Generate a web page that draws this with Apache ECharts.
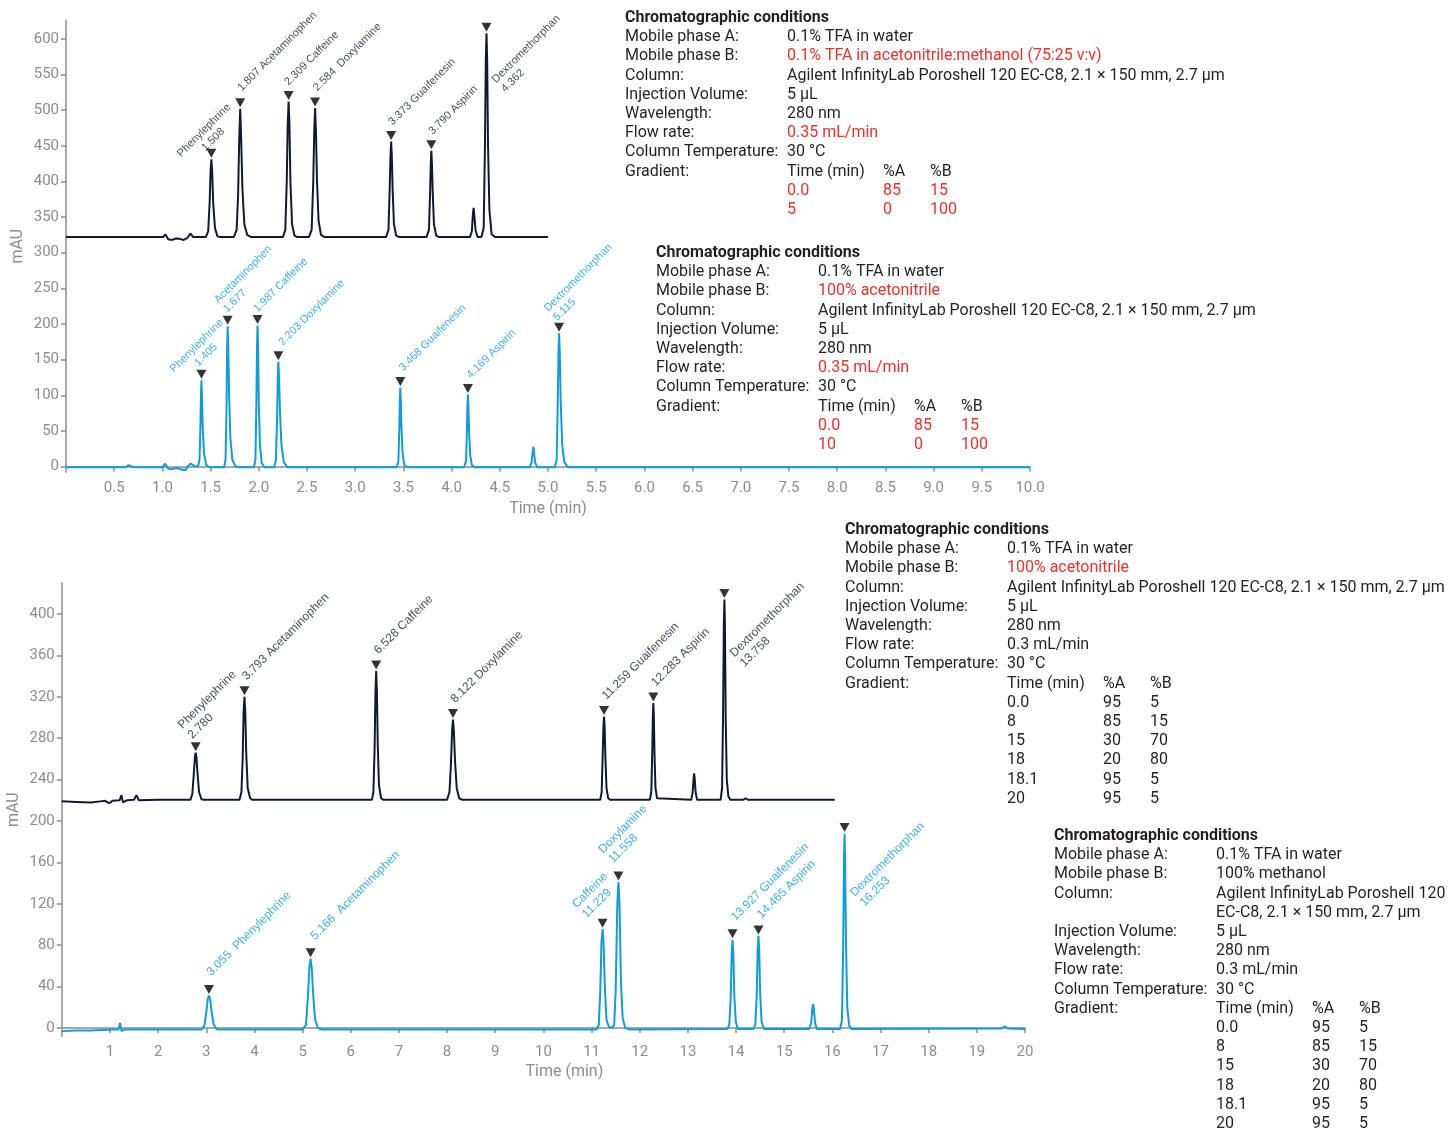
<!DOCTYPE html>
<html>
<head>
<meta charset="utf-8">
<script src="https://cdn.jsdelivr.net/npm/echarts@6/dist/echarts.min.js"></script>
<style>
  html, body { margin: 0; padding: 0; background: #fff; }
  #chart { width: 1449px; height: 1130px; }
</style>
</head>
<body>
<div id="chart"></div>
<script>
// ---------------- DATA ----------------
// Top panel (0–10 min)
const topXTicks = [0.5,1.0,1.5,2.0,2.5,3.0,3.5,4.0,4.5,5.0,5.5,6.0,6.5,7.0,7.5,8.0,8.5,9.0,9.5,10.0];
const topYTicks = [0,50,100,150,200,250,300,350,400,450,500,550,600];

const topDarkTrace = [
  [0,322],[0.48,322],[0.5,323.5],[0.53,322],[0.67,322],[0.69,323],[0.72,322],[1.01,322],[1.03,326],[1.06,319],
  [1.1,318],[1.14,320],[1.18,319.5],[1.22,318],[1.26,321],[1.29,327],[1.32,322],
  [1.45,322],[1.475,330],[1.49,370],[1.5,415],[1.508,431],[1.516,415],[1.527,370],[1.545,335],[1.57,323],[1.6,322],
  [1.74,322],[1.77,332],[1.785,380],[1.797,460],[1.807,502],[1.817,460],[1.83,390],[1.85,340],[1.88,325],[1.92,322],
  [2.25,322],[2.275,332],[2.29,400],[2.3,480],[2.309,512],[2.318,480],[2.328,400],[2.345,340],[2.37,324],[2.4,322],
  [2.52,322],[2.548,332],[2.565,400],[2.575,470],[2.584,503],[2.593,470],[2.604,400],[2.62,345],[2.645,325],[2.68,322],
  [3.32,322],[3.345,332],[3.358,390],[3.366,435],[3.373,456],[3.38,435],[3.388,390],[3.402,340],[3.425,324],[3.46,322],
  [3.74,322],[3.765,332],[3.777,385],[3.784,425],[3.79,443],[3.796,425],[3.804,385],[3.817,340],[3.84,324],[3.87,322],
  [4.19,322],[4.21,330],[4.22,352],[4.228,363],[4.236,352],[4.248,332],[4.27,322],
  [4.31,322],[4.333,335],[4.346,450],[4.355,570],[4.362,608],[4.369,570],[4.378,450],[4.392,360],[4.415,326],[4.45,322],
  [4.7,322],[4.72,323.5],[4.74,322],[5.0,322]
];
const topDarkPeakTimes   = [1.508, 1.807, 2.309, 2.584, 3.373, 3.790, 4.362];
const topDarkPeakHeights = [431, 502, 512, 503, 456, 443, 608];
const topDarkPeakLabels  = ['Phenylephrine\n1.508','1.807 Acetaminophen','2.309 Caffeine','2.584  Doxylamine',
                            '3.373 Guaifenesin','3.790 Aspirin','Dextromethorphan\n4.362'];

const topBlueTrace = [
  [0,-1],[0.62,-1],[0.65,2],[0.68,0],[0.72,-1],[1.0,-1],[1.03,4],[1.06,-3],[1.1,-3.5],[1.15,-2],[1.2,-4],[1.24,-5],
  [1.27,1],[1.29,4],[1.33,1],
  [1.37,0],[1.385,10],[1.395,60],[1.4,100],[1.405,121],[1.41,100],[1.418,55],[1.432,18],[1.455,2],[1.49,-1],
  [1.64,-1],[1.655,10],[1.665,80],[1.671,160],[1.677,197],[1.683,170],[1.692,100],[1.705,40],[1.725,10],[1.76,0],[1.8,-1],
  [1.95,-1],[1.965,10],[1.975,90],[1.981,165],[1.987,198],[1.993,165],[2.0,90],[2.012,30],[2.03,5],[2.06,-1],
  [2.16,-1],[2.178,10],[2.19,70],[2.197,125],[2.203,147],[2.21,125],[2.22,75],[2.235,30],[2.26,6],[2.3,-1],
  [3.43,-1],[3.448,8],[3.458,55],[3.463,92],[3.468,111],[3.473,92],[3.48,55],[3.492,18],[3.51,2],[3.54,-1],
  [4.13,-1],[4.15,8],[4.159,50],[4.164,85],[4.169,101],[4.174,85],[4.181,50],[4.193,16],[4.21,2],[4.24,-1],
  [4.81,-1],[4.83,6],[4.842,22],[4.848,28],[4.854,22],[4.866,6],[4.89,-1],
  [5.07,-1],[5.09,10],[5.1,80],[5.108,155],[5.115,187],[5.122,160],[5.132,90],[5.148,30],[5.17,6],[5.21,-1],
  [10.0,-1]
];
const topBluePeakTimes   = [1.405, 1.677, 1.987, 2.203, 3.468, 4.169, 5.115];
const topBluePeakHeights = [121, 197, 198, 147, 111, 101, 187];
const topBluePeakLabels  = ['Phenylephrine\n1.405','Acetaminophen\n1.677','1.987 Caffeine','2.203 Doxylamine',
                            '3.468 Guaifenesin','4.169 Aspirin','Dextromethorphan\n5.115'];

// Bottom panel (0–20 min)
const botXTicks = [1,2,3,4,5,6,7,8,9,10,11,12,13,14,15,16,17,18,19,20];
const botYTicks = [0,40,80,120,160,200,240,280,320,360,400];

const botDarkTrace = [
  [0,219],[0.3,218.5],[0.6,218],[0.8,219],[0.9,219.5],[0.95,218],[1.0,217.5],[1.05,219.5],[1.2,220],[1.24,225],
  [1.27,218],[1.35,220],[1.5,220.5],[1.55,225],[1.6,220],[2.0,220.5],
  [2.67,220.5],[2.71,226],[2.74,245],[2.765,262],[2.78,266],[2.795,262],[2.82,245],[2.85,228],[2.9,221],[2.95,220.5],
  [3.69,220.5],[3.73,228],[3.755,260],[3.775,305],[3.793,320],[3.81,305],[3.83,265],[3.86,232],[3.91,222],[3.96,220.5],
  [6.44,220.5],[6.47,228],[6.495,270],[6.513,325],[6.528,345],[6.543,325],[6.56,275],[6.585,235],[6.63,222],[6.68,220.5],
  [8.0,220.5],[8.05,228],[8.08,255],[8.105,288],[8.122,298],[8.14,288],[8.165,258],[8.2,232],[8.25,222],[8.32,220.5],
  [11.18,220.5],[11.21,228],[11.232,265],[11.247,292],[11.259,301],[11.271,292],[11.287,262],[11.31,232],[11.345,222],[11.39,220.5],
  [12.21,220.5],[12.24,228],[12.26,265],[12.273,302],[12.283,314],[12.293,302],[12.307,265],[12.327,232],[12.36,222],[12.4,220.5],
  [13.07,220.5],[13.1,228],[13.12,242],[13.13,246],[13.14,242],[13.16,228],[13.19,220.5],
  [13.68,220.5],[13.71,232],[13.73,300],[13.747,390],[13.758,414],[13.769,390],[13.785,300],[13.808,240],[13.84,224],[13.88,220.5],
  [14.15,220.5],[14.2,222],[14.25,220.5],[16.05,220.5]
];
const botDarkPeakTimes   = [2.780, 3.793, 6.528, 8.122, 11.259, 12.283, 13.758];
const botDarkPeakHeights = [266, 320, 345, 298, 301, 314, 414];
const botDarkPeakLabels  = ['Phenylephrine\n2.780','3.793 Acetaminophen','6.528 Caffeine','8.122 Doxylamine',
                            '11.259 Guaifenesin','12.283 Aspirin','Dextromethorphan\n13.758'];

const botBlueTrace = [
  [0,-3],[0.3,-2.5],[0.6,-2.5],[0.8,-2],[1.1,-1.5],[1.18,-1.5],[1.21,5],[1.24,-3],[1.3,-1.5],[1.5,-1.5],[2.85,-1.5],
  [2.9,-1.5],[2.96,2],[3.0,15],[3.03,28],[3.055,31.4],[3.08,28],[3.11,16],[3.15,4],[3.21,-1],[3.28,-1.5],
  [5.0,-1.5],[5.07,3],[5.11,30],[5.14,58],[5.166,67],[5.19,58],[5.22,32],[5.26,8],[5.32,0],[5.4,-1.5],
  [11.1,-1.5],[11.15,3],[11.18,35],[11.205,82],[11.229,95.5],[11.25,82],[11.275,40],[11.31,8],[11.36,1],[11.42,0],
  [11.47,3],[11.5,35],[11.535,120],[11.558,141],[11.58,120],[11.61,45],[11.645,10],[11.7,0],[11.8,-1.5],
  [13.82,-1],[13.86,3],[13.89,30],[13.91,72],[13.927,85.3],[13.944,72],[13.965,30],[13.995,6],[14.04,-1],
  [14.36,-1],[14.4,3],[14.43,32],[14.449,76],[14.465,89],[14.481,76],[14.502,32],[14.53,6],[14.58,-1],
  [15.52,-1],[15.56,5],[15.585,19],[15.6,23.4],[15.615,19],[15.64,5],[15.68,-1],
  [16.16,-1],[16.2,8],[16.225,80],[16.242,165],[16.253,188],[16.264,165],[16.282,85],[16.31,20],[16.35,2],[16.4,-1],
  [19.5,-0.5],[19.58,1.5],[19.65,-0.5],[20,-1]
];
const botBluePeakTimes   = [3.055, 5.166, 11.229, 11.558, 13.927, 14.465, 16.253];
const botBluePeakHeights = [31.4, 67, 95.5, 141, 85.3, 89, 188];
const botBluePeakLabels  = ['3.055  Phenylephrine','5.166  Acetaminophen','Caffeine\n11.229','Doxylamine\n11.558',
                            '13.927 Guaifenesin','14.465 Aspirin','Dextromethorphan\n16.253'];

// Conditions text
const condTitle = 'Chromatographic conditions';
const gradHeader = ['Gradient:', 'Time (min)', '%A', '%B'];
const cond1Rows = [
  ['Mobile phase A:', '0.1% TFA in water'],
  ['Mobile phase B:', '0.1% TFA in acetonitrile:methanol (75:25 v:v)'],
  ['Column:', 'Agilent InfinityLab Poroshell 120 EC-C8, 2.1 × 150 mm, 2.7 µm'],
  ['Injection Volume:', '5 µL'],
  ['Wavelength:', '280 nm'],
  ['Flow rate:', '0.35 mL/min'],
  ['Column Temperature:', '30 °C']
];
const cond1Grad = [['0.0','85','15'],['5','0','100']];
const cond2Rows = [
  ['Mobile phase A:', '0.1% TFA in water'],
  ['Mobile phase B:', '100% acetonitrile'],
  ['Column:', 'Agilent InfinityLab Poroshell 120 EC-C8, 2.1 × 150 mm, 2.7 µm'],
  ['Injection Volume:', '5 µL'],
  ['Wavelength:', '280 nm'],
  ['Flow rate:', '0.35 mL/min'],
  ['Column Temperature:', '30 °C']
];
const cond2Grad = [['0.0','85','15'],['10','0','100']];
const cond3Rows = [
  ['Mobile phase A:', '0.1% TFA in water'],
  ['Mobile phase B:', '100% acetonitrile'],
  ['Column:', 'Agilent InfinityLab Poroshell 120 EC-C8, 2.1 × 150 mm, 2.7 µm'],
  ['Injection Volume:', '5 µL'],
  ['Wavelength:', '280 nm'],
  ['Flow rate:', '0.3 mL/min'],
  ['Column Temperature:', '30 °C']
];
const cond3Grad = [['0.0','95','5'],['8','85','15'],['15','30','70'],['18','20','80'],['18.1','95','5'],['20','95','5']];
const cond4Rows = [
  ['Mobile phase A:', '0.1% TFA in water'],
  ['Mobile phase B:', '100% methanol'],
  ['Column:', 'Agilent InfinityLab Poroshell 120\nEC-C8, 2.1 × 150 mm, 2.7 µm'],
  ['Injection Volume:', '5 µL'],
  ['Wavelength:', '280 nm'],
  ['Flow rate:', '0.3 mL/min'],
  ['Column Temperature:', '30 °C']
];
const cond4Grad = [['0.0','95','5'],['8','85','15'],['15','30','70'],['18','20','80'],['18.1','95','5'],['20','95','5']];

// ---------------- STYLE / LAYOUT ----------------
const DARK = '#0f1b2d';
const BLUE = '#109bd9';
const AXIS = '#8c8c8c';
const INK = '#231f20';
const RED = '#e8322b';
const LABEL_FONT = '"Liberation Sans", Arial, sans-serif';
const TEXT_FONT = 'Roboto, "Noto Sans", sans-serif';

// label placement per peak: [align, along-offset, perpendicular-offset] (rotated frame)
const topDarkLabelPos = [['center',11,-15],['left',9,-10],['left',7,-10],['left',9,-9],['left',8,-9],['left',8,-9],['left',-33,50]];
const topBlueLabelPos = [['center',17,-17],['left',5,-15],['left',5,-8],['left',10,-7],['left',9,-8],['left',9,-8],['left',3,-15]];
const botDarkLabelPos = [['left',3,-18],['left',9,-9],['left',9,-9],['left',9,-9],['left',9,-9],['left',9,-9],['left',-38,56]];
const botBlueLabelPos = [['left',11,-11],['left',12,-9],['left',-8,-25],['left',5,-23],['left',11,-10],['left',10,-9],['left',-42,60]];

const RH = 19.2;
const condLayout = [
  {x0:625, x1:787, xa:883, xb:930, y:18, rows:cond1Rows, grad:cond1Grad, red:[1,5], gradRed:true},
  {x0:656, x1:818, xa:914, xb:961, y:253, rows:cond2Rows, grad:cond2Grad, red:[1,5], gradRed:true},
  {x0:845, x1:1007, xa:1103, xb:1150, y:530, rows:cond3Rows, grad:cond3Grad, red:[1], gradRed:false},
  {x0:1054, x1:1216, xa:1312, xb:1359, y:836, rows:cond4Rows, grad:cond4Grad, red:[], gradRed:false}
];

function txt(x, y, s, color, bold) {
  return {
    type: 'text', x: x, y: y, silent: true,
    style: {
      text: s, fill: color || INK,
      fontFamily: TEXT_FONT, fontSize: 16, fontWeight: bold ? 'bold' : 'normal',
      align: 'left', verticalAlign: 'middle', textAlign: 'left', textVerticalAlign: 'middle'
    }
  };
}
const graphics = [];
condLayout.forEach(b => {
  let y = b.y;
  graphics.push(txt(b.x0, y, condTitle, INK, true));
  y += RH;
  b.rows.forEach((r, i) => {
    graphics.push(txt(b.x0, y, r[0]));
    r[1].split('\n').forEach(line => {
      graphics.push(txt(b.x1, y, line, b.red.indexOf(i) >= 0 ? RED : INK));
      y += RH;
    });
  });
  graphics.push(txt(b.x0, y, gradHeader[0]));
  graphics.push(txt(b.x1, y, gradHeader[1]));
  graphics.push(txt(b.xa, y, gradHeader[2]));
  graphics.push(txt(b.xb, y, gradHeader[3]));
  y += RH;
  b.grad.forEach(g => {
    const c = b.gradRed ? RED : INK;
    graphics.push(txt(b.x1, y, g[0], c));
    graphics.push(txt(b.xa, y, g[1], c));
    graphics.push(txt(b.xb, y, g[2], c));
    y += RH;
  });
});

function lineSeries(data, color, idx) {
  return {
    type: 'line', data: data, xAxisIndex: idx, yAxisIndex: idx,
    showSymbol: false, symbol: 'none', smooth: false, animation: false,
    lineStyle: { color: color, width: 2 }, z: 2
  };
}
function peakSeries(times, heights, labels, pos, color, idx, fs) {
  return {
    type: 'scatter', xAxisIndex: idx, yAxisIndex: idx, animation: false, z: 5,
    symbol: 'path://M0,0 L10,0 L5,9 Z', symbolSize: [10, 9], symbolOffset: [0, -6],
    itemStyle: { color: '#000' },
    data: times.map((t, i) => ({
      value: [t, heights[i]],
      label: {
        show: true, formatter: labels[i], position: 'inside', rotate: 45,
        align: pos[i][0], verticalAlign: 'middle', offset: [pos[i][1], pos[i][2]],
        color: color, fontSize: fs, fontFamily: LABEL_FONT, lineHeight: fs + 2
      }
    }))
  };
}

const axisLineStyle = { lineStyle: { color: AXIS, width: 1.5 } };
const axisLabelStyle = { color: AXIS, fontSize: 15, fontFamily: TEXT_FONT };
const nameStyle = { color: AXIS, fontSize: 16, fontFamily: TEXT_FONT };

const option = {
  backgroundColor: '#fff',
  animation: false,
  grid: [
    { left: 66, top: 20, width: 964, height: 452.3, outerBoundsMode: 'none', containLabel: false },
    { left: 61.8, top: 583, width: 963.2, height: 453.3, outerBoundsMode: 'none', containLabel: false }
  ],
  xAxis: [
    {
      type: 'value', gridIndex: 0, min: 0, max: 10,
      axisLine: axisLineStyle,
      axisTick: { show: true, length: 5, lineStyle: { color: AXIS, width: 1.5 }, customValues: topXTicks },
      axisLabel: Object.assign({ margin: 8, customValues: topXTicks, formatter: v => v.toFixed(1) }, axisLabelStyle),
      splitLine: { show: false },
      name: 'Time (min)', nameLocation: 'middle', nameGap: 29,
      nameTextStyle: nameStyle
    },
    {
      type: 'value', gridIndex: 1, min: 0, max: 20,
      axisLine: axisLineStyle,
      axisTick: { show: true, length: 5, lineStyle: { color: AXIS, width: 1.5 }, customValues: botXTicks },
      axisLabel: Object.assign({ margin: 8, customValues: botXTicks, formatter: v => String(Math.round(v)) }, axisLabelStyle),
      splitLine: { show: false },
      name: 'Time (min)', nameLocation: 'middle', nameGap: 28,
      nameTextStyle: Object.assign({ padding: [0, 0, 0, 42] }, nameStyle)
    }
  ],
  yAxis: [
    {
      type: 'value', gridIndex: 0, min: -8, max: 626.5,
      axisLine: { show: true, lineStyle: { color: AXIS, width: 1.5 } },
      axisTick: { show: true, length: 5, lineStyle: { color: AXIS, width: 1.5 }, customValues: topYTicks },
      axisLabel: Object.assign({ margin: 7, customValues: topYTicks }, axisLabelStyle),
      splitLine: { show: false },
      name: 'mAU', nameLocation: 'middle', nameGap: 40, nameRotate: 90, nameMoveOverlap: false,
      nameTextStyle: nameStyle
    },
    {
      type: 'value', gridIndex: 1, min: -8, max: 430,
      axisLine: { show: true, lineStyle: { color: AXIS, width: 1.5 } },
      axisTick: { show: true, length: 5, lineStyle: { color: AXIS, width: 1.5 }, customValues: botYTicks },
      axisLabel: Object.assign({ margin: 7, customValues: botYTicks }, axisLabelStyle),
      splitLine: { show: false },
      name: 'mAU', nameLocation: 'middle', nameGap: 40, nameRotate: 90, nameMoveOverlap: false,
      nameTextStyle: nameStyle
    }
  ],
  series: [
    lineSeries(topBlueTrace, BLUE, 0),
    lineSeries(topDarkTrace, DARK, 0),
    lineSeries(botBlueTrace, BLUE, 1),
    lineSeries(botDarkTrace, DARK, 1),
    peakSeries(topDarkPeakTimes, topDarkPeakHeights, topDarkPeakLabels, topDarkLabelPos, DARK, 0, 11),
    peakSeries(topBluePeakTimes, topBluePeakHeights, topBluePeakLabels, topBlueLabelPos, BLUE, 0, 11),
    peakSeries(botDarkPeakTimes, botDarkPeakHeights, botDarkPeakLabels, botDarkLabelPos, DARK, 1, 12),
    peakSeries(botBluePeakTimes, botBluePeakHeights, botBluePeakLabels, botBlueLabelPos, BLUE, 1, 12)
  ],
  graphic: { elements: graphics }
};

const chart = echarts.init(document.getElementById('chart'), null, { renderer: 'canvas' });
chart.setOption(option);
</script>
</body>
</html>
